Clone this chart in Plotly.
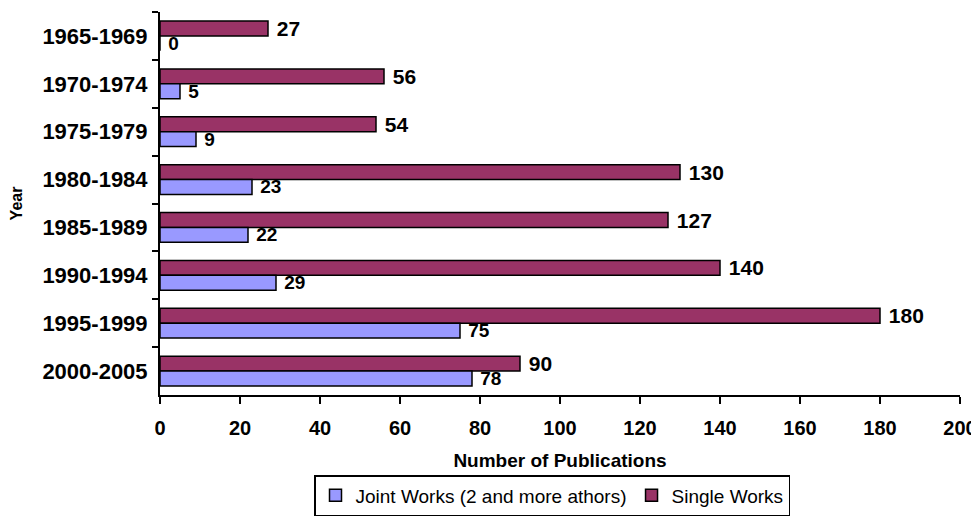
import plotly.graph_objects as go

periods = ["1965-1969", "1970-1974", "1975-1979", "1980-1984",
           "1985-1989", "1990-1994", "1995-1999", "2000-2005"]
single_works = [27, 56, 54, 130, 127, 140, 180, 90]
joint_works = [0, 5, 9, 23, 22, 29, 75, 78]
x_ticks = [0, 20, 40, 60, 80, 100, 120, 140, 160, 180, 200]

FONT = "Arial, Liberation Sans, sans-serif"
SINGLE_COLOR = "#993366"
JOINT_COLOR = "#9999FF"

fig = go.Figure()

# Single first so it sits on top within each group (y axis reversed)
fig.add_trace(go.Bar(
    x=single_works,
    y=periods,
    orientation="h",
    name="Single Works",
    marker=dict(color=SINGLE_COLOR, line=dict(color="black", width=1.5)),
    text=["\u00a0" + str(v) for v in single_works],
    textposition="outside",
    constraintext="none",
    textfont=dict(family=FONT, size=21, color="black", weight="bold"),
    cliponaxis=False,
    legendrank=2,
))

fig.add_trace(go.Bar(
    x=joint_works,
    y=periods,
    orientation="h",
    name="Joint Works (2 and more athors)",
    marker=dict(color=JOINT_COLOR, line=dict(color="black", width=1.5)),
    text=["\u00a0" + str(v) for v in joint_works],
    textposition="outside",
    constraintext="none",
    textfont=dict(family=FONT, size=19, color="black", weight="bold"),
    cliponaxis=False,
    legendrank=1,
))

# page body has an 8px margin, so the figure is a bit smaller than the window
fig.update_layout(
    barmode="group",
    bargap=0.38,
    bargroupgap=0,
    width=971,
    height=508,
    paper_bgcolor="white",
    plot_bgcolor="white",
    margin=dict(l=152, r=19, t=4, b=121),
    font=dict(family=FONT, color="black"),
    xaxis=dict(
        range=[0, 200],
        tickvals=x_ticks,
        ticks="outside",
        ticklen=7,
        tickwidth=2,
        tickcolor="black",
        ticklabelstandoff=7,
        showline=True,
        linecolor="black",
        linewidth=2,
        showgrid=False,
        zeroline=False,
        automargin=False,
        tickfont=dict(size=20, weight="bold"),
        title=dict(text="<b>Number of Publications</b>", font=dict(size=19), standoff=16),
    ),
    yaxis=dict(
        type="category",
        autorange="reversed",
        tickson="boundaries",
        ticks="outside",
        ticklen=6,
        tickwidth=2,
        tickcolor="black",
        ticklabelstandoff=6,
        showline=True,
        linecolor="black",
        linewidth=2,
        showgrid=False,
        automargin=False,
        tickfont=dict(size=22, weight="bold"),
        title=dict(text="<b>Year</b>", font=dict(size=16), standoff=20),
    ),
    legend=dict(
        orientation="h",
        x=0.49,
        xanchor="center",
        yref="container",
        y=0.0,
        yanchor="bottom",
        font=dict(size=19),
        bordercolor="black",
        borderwidth=1.5,
        itemwidth=30,
    ),
)

fig.write_html("out.html")
